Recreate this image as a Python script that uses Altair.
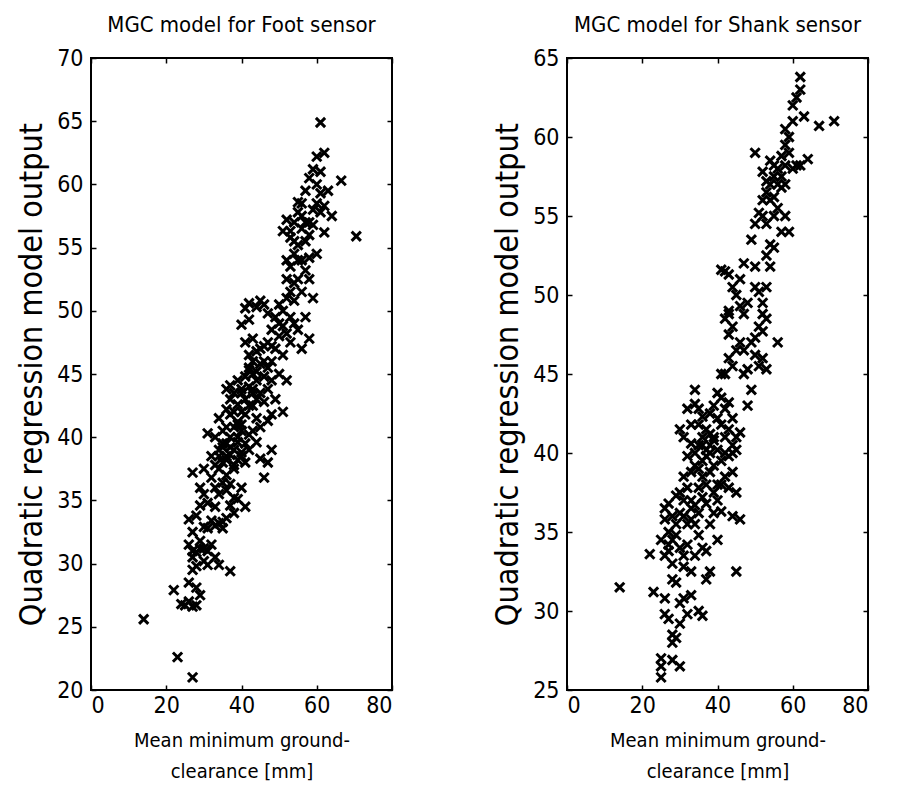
import altair as alt
import pandas as pd

# ---------------- data ----------------
foot_x = [14, 23, 27, 22, 24, 25, 26, 27, 28, 29, 28, 26, 27, 27, 28, 26, 27, 26, 28, 27,
          29, 30, 31, 29, 30, 31, 32, 33, 34, 35, 35, 36, 32, 30, 31, 33, 34, 37, 33, 32,
          31, 33, 34, 35, 34, 36, 35, 36, 37, 38, 37, 38, 39, 40, 41, 39, 38, 36, 35, 34,
          36, 37, 38, 37, 39, 40, 41, 42, 41, 40, 39, 38, 36, 37, 41, 42, 43, 44, 45, 44,
          45, 47, 46, 48, 47, 46, 44, 45, 43, 42, 41, 44, 45, 46, 47, 48, 49, 47, 46, 48,
          49, 47, 46, 45, 44, 42, 41, 42, 40, 41, 43, 50, 51, 52, 50, 51, 53, 52, 49, 50,
          51, 48, 53, 54, 53, 52, 54, 53, 52, 51, 55, 54, 56, 57, 55, 56, 57, 58, 57, 56,
          57, 58, 59, 60, 61, 62, 60, 60, 62, 63, 61, 64, 62, 61, 66.5, 70.5, 59, 58, 59, 56,
          55, 54, 57, 55, 56, 58, 60, 38, 40, 43, 35, 39, 42, 36, 44, 40, 33, 30, 29, 37,
          36, 37, 38, 39, 40, 41, 42, 43, 42, 40, 39, 38, 37, 35, 34, 36, 39, 40, 43, 44,
          42, 43, 45, 46, 47, 48, 48, 50, 51, 52, 53, 54, 52, 55, 53, 54, 56, 55, 58, 59,
          58, 61, 34, 33, 32, 30, 29, 31, 27, 28]
foot_y = [25.6, 22.6, 21.0, 27.9, 26.8, 26.7, 27.0, 26.6, 26.7, 27.5, 28.1, 28.5, 29.5, 30.5, 30.9, 31.5, 32.5, 33.5, 33.8, 37.2,
          36.0, 35.5, 34.8, 34.6, 32.9, 32.8, 33.4, 33.0, 33.2, 33.3, 32.8, 33.6, 31.5, 30.2, 29.9, 30.5, 29.9, 29.4, 36.0, 38.5,
          40.3, 40.0, 39.0, 38.0, 37.5, 37.0, 36.4, 35.8, 36.3, 35.2, 34.6, 34.0, 35.1, 36.0, 34.5, 38.2, 39.0, 39.5, 40.5, 41.5,
          42.2, 41.8, 40.8, 40.0, 40.0, 40.5, 39.5, 40.2, 41.8, 42.0, 42.6, 43.5, 43.8, 44.1, 43.0, 44.0, 42.5, 41.5, 40.8, 39.6,
          38.3, 38.0, 36.8, 39.0, 41.3, 42.8, 45.2, 45.8, 46.0, 45.3, 44.8, 43.0, 43.5, 44.8, 45.5, 46.0, 47.0, 47.5, 47.2, 48.5,
          49.5, 49.8, 50.5, 50.8, 50.3, 50.6, 50.2, 49.3, 48.9, 47.5, 47.8, 48.0, 50.0, 51.0, 50.5, 46.5, 47.5, 44.5, 43.0, 45.0,
          42.0, 41.8, 49.5, 50.8, 53.5, 54.0, 54.5, 55.8, 57.2, 56.3, 57.8, 57.0, 56.5, 57.0, 55.2, 54.0, 53.2, 54.2, 55.5, 58.5,
          59.5, 60.5, 61.2, 62.2, 61.0, 62.5, 60.0, 58.5, 58.3, 59.5, 57.8, 57.5, 56.2, 64.9, 60.3, 55.9, 56.8, 52.5, 51.0, 51.5,
          52.5, 52.2, 49.5, 48.5, 47.0, 47.8, 54.5, 37.5, 38.8, 43.5, 39.2, 41.0, 45.5, 38.2, 46.8, 43.8, 37.8, 31.2, 31.8, 38.6,
          38.5, 39.2, 37.8, 39.6, 38.5, 38.0, 39.0, 40.5, 42.5, 43.5, 44.5, 42.0, 43.0, 39.5, 38.5, 40.8, 41.2, 41.0, 43.8, 44.5,
          46.5, 45.0, 47.0, 46.0, 43.8, 44.5, 47.2, 49.0, 48.8, 48.2, 51.5, 49.0, 52.5, 54.0, 56.3, 55.5, 57.5, 58.6, 56.0, 58.0,
          57.0, 59.3, 35.5, 34.5, 36.8, 37.5, 31.2, 31.0, 31.0, 29.8]

shank_x = [14, 22, 23, 25, 25, 25, 26, 27, 28, 28, 29, 30, 28, 26, 25, 26, 26, 27, 27, 28,
           28, 29, 30, 30, 31, 32, 33, 33, 34, 35, 34, 31, 30, 29, 30, 31, 32, 33, 32, 31,
           30, 30, 31, 32, 33, 34, 34, 34, 35, 35, 36, 36, 37, 38, 37, 38, 37, 36, 35, 40,
           41, 39, 38, 37, 36, 37, 38, 39, 40, 41, 42, 43, 42, 43, 44, 45, 46, 45, 44, 43,
           45, 46, 44, 45, 42, 41, 40, 39, 42, 43, 44, 43, 44, 42, 43, 42, 41, 43, 45, 46,
           46, 47, 46, 47, 48, 47, 49, 48, 49, 50, 51, 51, 52, 53, 52, 51, 53, 50, 52, 53,
           54, 53, 52, 53, 54, 55, 56, 54, 55, 50, 51, 52, 57, 58, 59, 58, 57, 58, 59, 57,
           58, 56, 55, 56, 60, 61, 62, 62, 63, 62, 60, 64, 67, 71, 60, 50, 36, 39, 33, 27,
           29, 35, 38, 41, 40, 34, 31, 44, 47, 55,
           33, 34, 35, 36, 37, 38, 39, 38, 36, 35, 33, 32, 37, 39, 40, 41, 42, 44, 40, 43,
           31, 29, 28, 27, 26, 28, 32, 33, 35, 36, 41, 43, 44, 45, 48, 49, 50, 52, 53, 54,
           52, 54, 55, 53, 56, 57, 58, 59, 61, 50]
shank_y = [31.5, 33.6, 31.2, 27.0, 26.5, 25.8, 29.8, 29.5, 28.5, 28.0, 28.3, 26.5, 26.9, 30.8, 34.5, 36.5, 35.8, 36.8, 34.2, 33.0,
           32.0, 31.8, 30.5, 29.2, 30.8, 29.8, 31.0, 32.5, 33.5, 34.8, 35.5, 33.5, 34.0, 35.5, 36.2, 36.0, 35.5, 37.0, 37.8, 38.5,
           37.5, 41.5, 41.0, 39.8, 40.6, 40.0, 43.1, 44.0, 41.8, 39.0, 38.5, 37.2, 36.8, 35.5, 33.8, 32.5, 32.0, 29.7, 30.0, 34.5,
           36.3, 37.5, 38.8, 39.8, 40.5, 41.5, 42.5, 41.0, 40.2, 39.5, 38.5, 39.8, 41.0, 41.5, 42.2, 41.0, 41.3, 40.2, 38.8, 37.8,
           37.5, 35.8, 36.0, 32.5, 42.8, 43.5, 42.2, 43.0, 45.0, 46.0, 45.5, 47.5, 48.0, 48.5, 49.0, 51.5, 51.6, 51.3, 50.0, 49.3,
           51.0, 52.0, 47.0, 46.5, 45.3, 45.0, 44.0, 43.0, 53.5, 50.5, 50.2, 48.0, 47.7, 48.5, 46.0, 45.5, 45.3, 47.3, 49.5, 52.5,
           53.2, 54.5, 56.0, 56.5, 57.0, 57.5, 58.0, 58.5, 56.2, 59.0, 55.2, 57.8, 58.8, 59.5, 60.0, 60.5, 56.8, 55.0, 54.0, 54.0,
           58.2, 55.5, 53.0, 47.0, 61.0, 62.5, 63.0, 63.8, 61.3, 58.2, 58.0, 58.6, 60.7, 61.0, 62.0, 54.5, 39.5, 40.8, 36.5, 33.8,
           34.8, 37.8, 40.0, 38.0, 37.0, 36.7, 32.8, 40.5, 48.8, 58.2,
           38.8, 39.2, 40.5, 41.0, 40.2, 40.5, 39.2, 41.2, 42.3, 42.8, 41.8, 42.8, 38.0, 36.2, 38.0, 41.8, 40.0, 40.0, 43.8, 43.2,
           37.0, 37.3, 36.0, 35.0, 33.5, 34.5, 34.2, 35.8, 36.2, 34.0, 45.0, 48.8, 50.5, 46.5, 49.5, 47.0, 46.2, 48.8, 50.5, 51.8,
           55.0, 56.0, 55.0, 57.2, 57.0, 57.5, 57.0, 59.0, 58.2, 51.8]

foot_yticks = [20, 25, 30, 35, 40, 45, 50, 55, 60, 65, 70]
shank_yticks = [25, 30, 35, 40, 45, 50, 55, 60, 65]
xticks = [0, 20, 40, 60, 80]

FONT = "DejaVu Sans Condensed"
XSHAPE = "M-1,-1L1,1M1,-1L-1,1"


def panel(xs, ys, title, ydom, yticks):
    df = pd.DataFrame({"x": xs, "y": ys})
    xscale = alt.Scale(domain=[0, 80], nice=False, zero=False)
    yscale = alt.Scale(domain=ydom, nice=False, zero=False)
    pts = alt.Chart(df).mark_point(
        shape=XSHAPE, filled=False, color="black", strokeWidth=3, size=85, opacity=1
    ).encode(
        x=alt.X("x:Q", scale=xscale, axis=alt.Axis(
            orient="bottom", values=xticks, offset=-5, tickSize=5, domain=False, grid=False,
            title=["Mean minimum ground-", "clearance [mm]"], titleFontSize=20,
            titleLineHeight=31, titleFontWeight="normal", titleFont=FONT, titleColor="black",
            titlePadding=13, labelFontSize=23, labelFont=FONT, labelColor="black",
            labelPadding=4, tickColor="black", tickWidth=1.5)),
        y=alt.Y("y:Q", scale=yscale, axis=alt.Axis(
            orient="left", values=yticks, offset=-5, tickSize=5, domain=False, grid=False,
            title="Quadratic regression model output", titleFontSize=32,
            titleFontWeight="normal", titleFont=FONT, titleColor="black", titlePadding=8,
            labelFontSize=23, labelFont=FONT, labelColor="black", labelPadding=8,
            tickColor="black", tickWidth=1.5)),
    )
    frame = alt.Chart(df).mark_point(opacity=0).encode(
        x=alt.X("x:Q", scale=xscale, axis=alt.Axis(
            orient="top", values=xticks, offset=-5, tickSize=5, domain=False, grid=False,
            labels=False, title=None, tickColor="black", tickWidth=1.5)),
        y=alt.Y("y:Q", scale=yscale, axis=alt.Axis(
            orient="right", values=yticks, offset=-5, tickSize=5, domain=False, grid=False,
            labels=False, title=None, tickColor="black", tickWidth=1.5)),
    )
    return alt.layer(pts, frame).resolve_axis(x="independent", y="independent").properties(
        width=301, height=632,
        title=alt.Title(title, fontSize=22, font=FONT, fontWeight="normal", color="black", offset=10),
    )


left = panel(foot_x, foot_y, "MGC model for Foot sensor", [20, 70], foot_yticks)
right = panel(shank_x, shank_y, "MGC model for Shank sensor", [25, 65], shank_yticks)

chart = alt.hconcat(left, right, spacing=96).configure_view(
    stroke="black", strokeWidth=2
).properties(background="white", padding={"left": 6, "top": 5, "right": 5, "bottom": 5})

chart.save("out.html", embed_options={"renderer": "svg", "actions": False})
